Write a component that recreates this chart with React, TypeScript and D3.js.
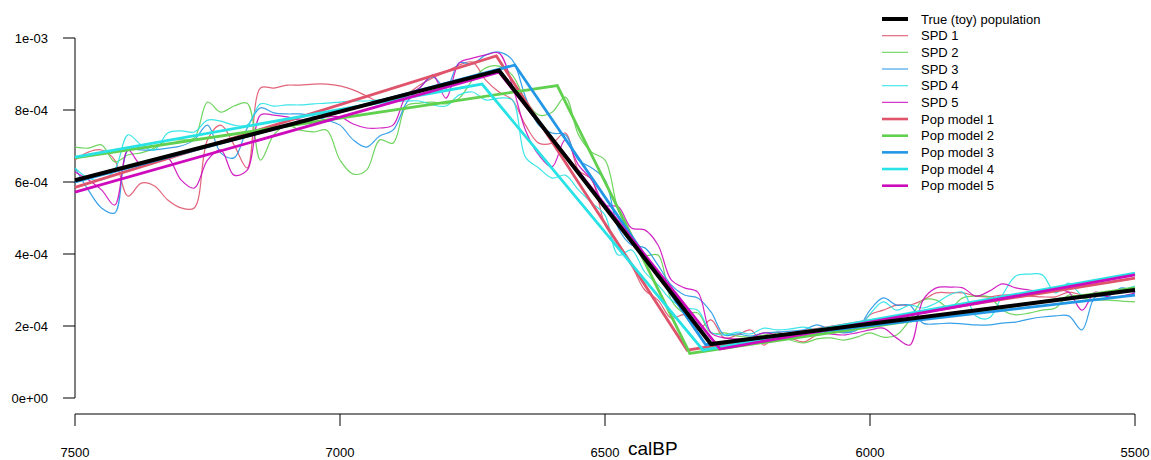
import React from "react";
import * as d3 from "d3";

// Years (calBP), 25-year grid for SPD curves
const years: number[] = d3.range(7500, 5499, -25);

// SPD values in units of 1e-4
const spd1 = [6.61,6.83,6.89,6.61,5.61,5.97,5.89,5.5,5.28,5.28,7.17,7.58,7.03,6.39,8.61,8.61,8.69,8.69,8.72,8.72,8.67,8.56,8.39,8.22,8.22,8.42,8.69,8.89,9.06,9.25,9.33,8.83,8.5,8.28,7.58,7.08,7.08,7.36,6.33,6.06,4.81,4.25,3.69,3.0,2.72,2.22,2.31,1.89,2.17,1.67,1.75,1.89,1.47,1.83,1.67,1.56,1.75,1.81,1.83,1.89,2.31,2.44,2.58,2.58,2.72,2.92,2.92,2.92,2.83,2.81,2.86,2.86,2.83,2.81,2.81,2.94,2.86,2.81,2.86,2.94,3.0];
const spd2 = [6.97,6.94,7.03,6.56,6.75,6.81,6.94,7.17,7.17,7.22,8.22,7.94,8.11,8.19,6.61,7.31,7.58,7.44,7.39,7.44,6.61,6.22,6.33,7.17,7.08,8.11,8.19,8.22,8.17,8.33,8.83,9.17,9.22,8.97,8.28,7.86,7.94,8.36,7.31,6.83,6.61,5.22,4.53,3.97,3.97,2.72,2.36,2.36,1.81,1.81,1.72,1.69,1.75,1.81,1.61,1.53,1.64,1.67,1.61,1.69,1.81,1.69,1.75,2.17,2.72,2.72,2.5,2.78,2.83,2.81,2.44,2.31,2.36,2.44,2.5,2.86,2.78,2.72,2.72,2.69,2.67];
const spd3 = [6.39,5.78,5.28,5.14,6.89,6.89,6.89,6.94,7.0,7.17,7.58,6.81,6.67,7.5,8.06,7.92,7.89,7.89,7.83,7.72,7.58,7.17,6.97,7.28,7.44,8.19,8.61,8.92,8.61,9.31,9.28,9.53,9.61,9.39,8.36,7.58,7.36,7.31,6.61,6.39,6.06,4.72,4.25,4.17,3.69,3.14,2.86,2.78,2.39,1.75,1.78,1.72,1.81,1.83,1.86,1.89,2.03,1.89,1.81,1.89,2.44,2.78,2.58,2.58,2.08,2.06,2.08,2.06,2.03,2.03,2.08,2.11,2.19,2.25,2.28,2.28,1.89,2.81,2.83,3.06,2.92];
const spd4 = [6.39,6.11,6.06,6.33,7.31,7.03,6.89,7.36,7.42,7.39,7.72,7.69,7.58,7.58,8.17,8.11,8.14,8.14,8.17,8.19,8.22,8.25,8.25,8.28,8.25,8.25,8.25,8.14,8.11,8.42,8.5,8.28,8.33,8.28,6.69,6.39,6.11,6.19,5.78,5.42,5.08,3.97,4.11,3.5,3.14,2.72,2.5,2.44,1.83,1.75,1.83,1.78,1.94,1.89,1.92,1.97,1.89,1.89,1.86,1.89,2.33,2.67,2.44,2.58,2.5,2.64,2.86,2.94,2.28,2.22,2.86,3.39,3.44,3.42,2.92,3.19,2.86,2.89,2.92,3.0,3.11];
const spd5 = [6.28,6.06,5.78,5.36,6.89,6.47,6.61,6.67,6.06,5.83,6.61,6.89,6.19,6.33,7.86,7.86,7.81,7.72,7.78,7.81,7.81,7.61,7.5,7.5,7.58,8.39,8.61,8.97,8.33,9.31,9.44,9.53,9.58,8.69,7.44,6.75,6.42,7.17,6.47,6.06,5.36,5.31,4.72,4.67,4.25,3.28,3.06,2.94,1.81,1.67,1.64,1.67,1.81,1.75,1.69,1.81,1.81,1.78,1.75,1.81,1.89,1.94,1.67,1.47,2.72,3.06,3.08,3.06,2.83,2.97,3.17,3.06,3.0,2.94,3.0,2.94,2.44,2.94,2.81,2.83,2.92];

// Piecewise-linear population models: breakpoint years and values (1e-4)
const trueYears = [7500, 6700, 6300, 5500];
const trueVals = [6.05, 9.1, 1.5, 3.0];
const model1Years = [7500, 6705, 6345, 5500];
const model1Vals = [5.85, 9.5, 1.33, 3.33];
const model2Years = [7500, 6590, 6340, 5500];
const model2Vals = [6.67, 8.68, 1.24, 3.06];
const model3Years = [7500, 6670, 6310, 5500];
const model3Vals = [6.0, 9.25, 1.48, 2.86];
const model4Years = [7500, 6732, 6315, 5500];
const model4Vals = [6.69, 8.72, 1.33, 3.47];
const model5Years = [7500, 6700, 6283, 5500];
const model5Vals = [5.72, 9.05, 1.36, 3.42];

const colors = ["#DF536B", "#61D04F", "#2297E6", "#28E2E5", "#CD0BBC"];

const yTicks = [0, 2, 4, 6, 8, 10];
const yTickLabels = ["0e+00", "2e-04", "4e-04", "6e-04", "8e-04", "1e-03"];
const xTicks = [7500, 7000, 6500, 6000, 5500];

const legendLabels = [
  "True (toy) population",
  "SPD 1", "SPD 2", "SPD 3", "SPD 4", "SPD 5",
  "Pop model 1", "Pop model 2", "Pop model 3", "Pop model 4", "Pop model 5",
];

export default function App() {
  const W = 1151, H = 460;
  const x = d3.scaleLinear().domain([7500, 5500]).range([75, 1135]);
  const y = d3.scaleLinear().domain([0, 10]).range([398, 38]);

  const spdLine = d3.line<[number, number]>()
    .x((d) => x(d[0])).y((d) => y(d[1]))
    .curve(d3.curveCatmullRom.alpha(0.5));
  const segLine = d3.line<[number, number]>()
    .x((d) => x(d[0])).y((d) => y(d[1]));

  const spds = [spd1, spd2, spd3, spd4, spd5];
  const models: [number[], number[]][] = [
    [model1Years, model1Vals], [model2Years, model2Vals], [model3Years, model3Vals],
    [model4Years, model4Vals], [model5Years, model5Vals],
  ];
  const zip = (a: number[], b: number[]) => a.map((v, i) => [v, b[i]] as [number, number]);

  const font = "Liberation Sans, Arial, Helvetica, sans-serif";

  const legendItems = legendLabels.map((lab, i) => {
    let color = "#000", width = 4, opacity = 1;
    if (i >= 1 && i <= 5) { color = colors[i - 1]; width = 1.2; opacity = 0.85; }
    if (i >= 6) { color = colors[i - 6]; width = 2.6; }
    return { lab, color, width, opacity };
  });

  return (
    <svg width={W} height={H} style={{ position: "absolute", left: 0, top: 0, background: "#fff" }}
      fontFamily={font}>
      <rect x={0} y={0} width={W} height={H} fill="#fff" />
      {/* y axis */}
      <line x1={75} x2={75} y1={y(10)} y2={y(0)} stroke="#000" strokeWidth={1} />
      {yTicks.map((t, i) => (
        <g key={t}>
          <line x1={63} x2={75} y1={y(t)} y2={y(t)} stroke="#000" />
          <text x={48} y={y(t)} dy="0.35em" textAnchor="end" fontSize={13} fill="#000">{yTickLabels[i]}</text>
        </g>
      ))}
      {/* x axis */}
      <line x1={x(7500)} x2={x(5500)} y1={414} y2={414} stroke="#000" strokeWidth={1} />
      {xTicks.map((t) => (
        <g key={t}>
          <line x1={x(t)} x2={x(t)} y1={414} y2={426} stroke="#000" />
          <text x={x(t)} y={452} dy="0.35em" textAnchor="middle" fontSize={13} fill="#000">{t}</text>
        </g>
      ))}
      <text x={628} y={455} fontSize={19} fill="#000">calBP</text>

      {/* SPDs */}
      {spds.map((s, i) => (
        <path key={"s" + i} d={spdLine(zip(years, s)) || ""} fill="none"
          stroke={colors[i]} strokeWidth={1.2} opacity={0.9} />
      ))}
      {/* Pop models */}
      {models.map((m, i) => (
        <path key={"m" + i} d={segLine(zip(m[0], m[1])) || ""} fill="none"
          stroke={colors[i]} strokeWidth={2.8} strokeLinejoin="miter" />
      ))}
      {/* True population */}
      <path d={segLine(zip(trueYears, trueVals)) || ""} fill="none" stroke="#000" strokeWidth={4} />

      {/* legend */}
      {legendItems.map((it, i) => {
        const ly = 19 + i * 16.67;
        return (
          <g key={it.lab}>
            <line x1={882} x2={908} y1={ly} y2={ly} stroke={it.color} strokeWidth={it.width} opacity={it.opacity} />
            <text x={921} y={ly} dy="0.35em" fontSize={13} fill="#000">{it.lab}</text>
          </g>
        );
      })}
    </svg>
  );
}
